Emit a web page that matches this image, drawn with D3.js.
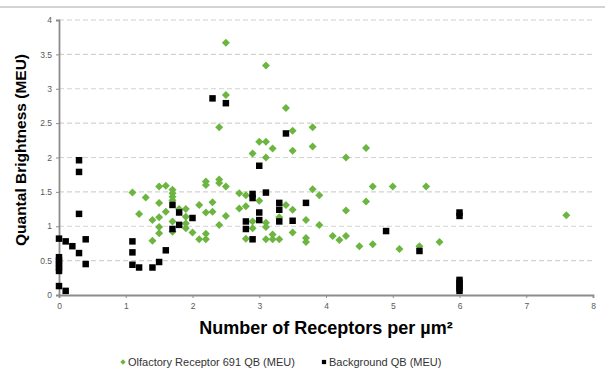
<!DOCTYPE html>
<html>
<head>
<meta charset="utf-8">
<script src="https://cdn.jsdelivr.net/npm/d3@7"></script>
<style>
  html, body { margin: 0; padding: 0; background: #fff; }
  svg { display: block; font-family: Arial, "Liberation Sans", sans-serif; }
</style>
</head>
<body>
<svg id="chart" width="605" height="381"></svg>
<script>
// Receptor density (per µm²) and quantal brightness (MEU) for each measurement
const receptorX = [1.1,1.2,1.3,1.4,1.4,1.5,1.5,1.5,1.5,1.5,1.6,1.6,1.7,1.7,1.7,1.7,1.7,1.7,1.8,1.9,1.9,1.9,1.9,2.0,2.1,2.1,2.2,2.2,2.2,2.2,2.2,2.3,2.3,2.4,2.4,2.4,2.4,2.5,2.5,2.5,2.5,2.7,2.7,2.8,2.8,2.8,2.9,2.9,2.9,3.0,3.0,3.1,3.1,3.1,3.1,3.1,3.1,3.2,3.2,3.2,3.3,3.3,3.4,3.4,3.5,3.5,3.5,3.5,3.7,3.7,3.7,3.8,3.8,3.8,3.9,3.9,4.1,4.2,4.3,4.3,4.3,4.5,4.6,4.6,4.7,4.7,5.0,5.1,5.4,5.5,5.7,7.6];
const receptorQB = [1.49,1.18,1.42,1.09,0.79,1.58,1.34,1.13,0.99,0.90,1.59,1.21,1.53,1.48,1.43,1.38,1.07,0.92,1.25,1.25,1.14,1.04,0.97,0.91,1.31,0.81,1.65,1.60,1.20,0.89,0.81,1.35,1.21,1.68,1.63,1.02,2.44,1.58,1.15,3.67,2.91,1.48,1.26,1.45,1.29,0.82,2.06,1.07,0.97,2.23,1.37,2.23,2.00,3.34,1.05,0.99,0.81,2.13,0.88,0.81,1.13,0.81,1.31,2.72,2.39,2.10,1.24,0.91,1.09,0.83,0.77,2.44,2.16,1.54,1.45,1.02,0.86,0.80,2.00,1.23,0.86,0.71,2.14,1.36,1.58,0.74,1.58,0.67,0.71,1.58,0.77,1.16];

const backgroundX = [0.3,0.3,0.3,0.0,0.1,0.2,0.3,0.4,0.4,0.0,0.0,0.0,0.0,0.0,0.0,0.1,1.1,1.1,1.1,1.2,1.4,1.5,1.6,1.7,1.7,1.8,1.8,2.0,2.3,2.5,2.8,2.8,2.9,2.9,2.9,3.0,3.0,3.0,3.1,3.3,3.3,3.3,3.4,3.5,3.7,4.9,5.4,6.0,6.0,6.0,6.0,6.0,6.0,6.0];
const backgroundQB = [1.96,1.79,1.18,0.82,0.78,0.71,0.61,0.81,0.45,0.55,0.50,0.45,0.40,0.35,0.13,0.06,0.78,0.62,0.44,0.40,0.40,0.48,0.65,1.31,0.96,1.20,1.02,1.12,2.86,2.79,1.07,0.96,1.47,1.41,0.81,1.88,1.20,1.09,1.49,1.34,1.24,1.07,2.35,1.08,1.34,0.93,0.64,1.20,1.15,0.22,0.18,0.14,0.10,0.06];

const xTicks = [0,1,2,3,4,5,6,7,8];
const yTicks = [0,0.5,1,1.5,2,2.5,3,3.5,4];

const seriesNames = ["Olfactory Receptor 691 QB (MEU)", "Background QB (MEU)"];
const green = "#6cb540";
const black = "#000000";

const svg = d3.select("#chart");
const plot = { left: 59, right: 593, top: 20, bottom: 295 };

const x = d3.scaleLinear().domain([0, 8]).range([plot.left, plot.right]);
const y = d3.scaleLinear().domain([0, 4]).range([plot.bottom, plot.top]);

// frame edge along the top
svg.append("line")
  .attr("x1", 0).attr("x2", 605).attr("y1", 7).attr("y2", 7)
  .attr("stroke", "#d4d4d4").attr("stroke-width", 2);

// dashed horizontal gridlines
svg.append("g")
  .selectAll("line")
  .data(yTicks.filter(d => d > 0))
  .join("line")
  .attr("x1", plot.left).attr("x2", plot.right)
  .attr("y1", d => y(d)).attr("y2", d => y(d))
  .attr("stroke", "#d2d2d2").attr("stroke-width", 1.2)
  .attr("stroke-dasharray", "5,3");

// y axis
const yAxis = svg.append("g")
  .attr("transform", `translate(${plot.left},0)`)
  .call(d3.axisLeft(y).tickValues(yTicks).tickSize(3).tickPadding(4).tickFormat(d3.format("")));
yAxis.select(".domain").attr("stroke", "#8c8c8c").attr("stroke-width", 1.8);
yAxis.selectAll(".tick line").attr("stroke", "#8c8c8c");
yAxis.selectAll(".tick text").attr("fill", "#595959").attr("font-size", 8.5)
  .attr("font-family", "Arial, 'Liberation Sans', sans-serif");

// x axis
const xAxis = svg.append("g")
  .attr("transform", `translate(0,${plot.bottom})`)
  .call(d3.axisBottom(x).tickValues(xTicks).tickSize(3).tickPadding(5).tickFormat(d3.format("d")));
xAxis.select(".domain").attr("stroke", "#8c8c8c").attr("stroke-width", 1.8);
xAxis.selectAll(".tick line").attr("stroke", "#8c8c8c");
xAxis.selectAll(".tick text").attr("fill", "#595959").attr("font-size", 8.5)
  .attr("font-family", "Arial, 'Liberation Sans', sans-serif");

// axis titles
svg.append("text")
  .attr("x", 326).attr("y", 334)
  .attr("text-anchor", "middle")
  .attr("font-size", 18).attr("font-weight", "bold").attr("fill", "#000")
  .text("Number of Receptors per µm²");

svg.append("text")
  .attr("transform", `translate(26,150) rotate(-90)`)
  .attr("text-anchor", "middle")
  .attr("font-size", 15.5).attr("font-weight", "bold").attr("fill", "#000")
  .text("Quantal Brightness (MEU)");

// markers
const diamond = d3.symbol().type(d3.symbolSquare).size(32);
const square = d3.symbol().type(d3.symbolSquare).size(42);

const receptorPts = receptorX.map((v, i) => [v, receptorQB[i]]);
const backgroundPts = backgroundX.map((v, i) => [v, backgroundQB[i]]);

svg.append("g")
  .selectAll("path")
  .data(receptorPts)
  .join("path")
  .attr("d", diamond)
  .attr("transform", d => `translate(${x(d[0])},${y(d[1])}) rotate(45)`)
  .attr("fill", green);

svg.append("g")
  .selectAll("path")
  .data(backgroundPts)
  .join("path")
  .attr("d", square)
  .attr("transform", d => `translate(${x(d[0])},${y(d[1])})`)
  .attr("fill", black);

// legend
const legend = svg.append("g").attr("font-size", 11);
const legendItems = [
  { name: seriesNames[0], mx: 123, sym: d3.symbol().type(d3.symbolSquare).size(14), rot: 45, color: green },
  { name: seriesNames[1], mx: 324, sym: d3.symbol().type(d3.symbolSquare).size(18), rot: 0, color: black }
];
legendItems.forEach(it => {
  legend.append("path")
    .attr("d", it.sym)
    .attr("transform", `translate(${it.mx},362) rotate(${it.rot})`)
    .attr("fill", it.color);
  legend.append("text")
    .attr("x", it.mx + 5).attr("y", 366)
    .attr("fill", "#333333")
    .text(it.name);
});
</script>
</body>
</html>
